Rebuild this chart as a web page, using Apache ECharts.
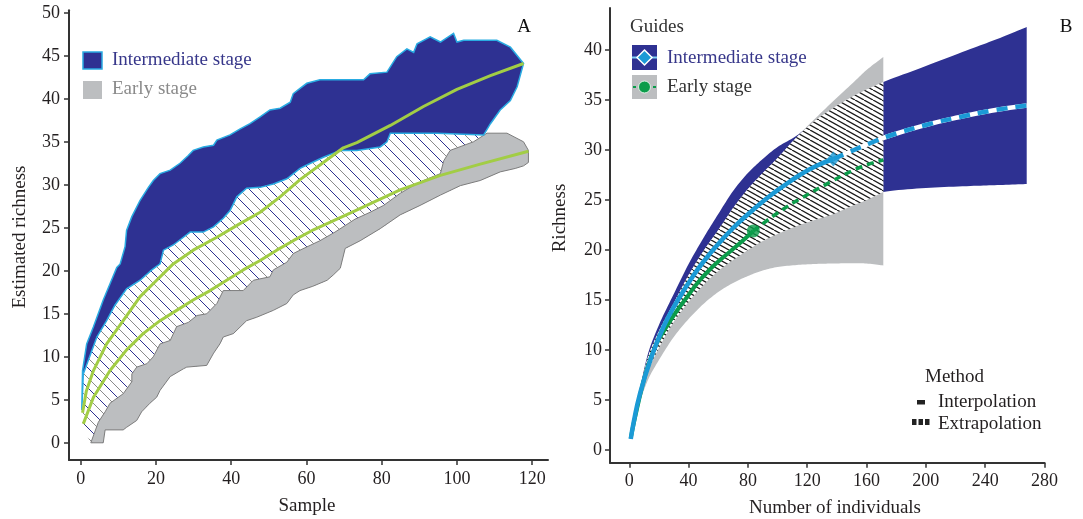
<!DOCTYPE html>
<html><head><meta charset="utf-8">
<script src="https://cdn.jsdelivr.net/npm/echarts@6/dist/echarts.min.js"></script>
<style>html,body{margin:0;padding:0;background:#fff}#c{width:1083px;height:519px}</style>
</head><body><div id="c"></div>
<script>
// ---------- Panel A (estimated richness vs sample) ----------
const xTicksA = [0, 20, 40, 60, 80, 100, 120];
const yTicksA = [0, 5, 10, 15, 20, 25, 30, 35, 40, 45, 50];
const navyUpperA = [[0.3,3.8],[0.5,8.4],[1.6,11.5],[3.4,13.5],[6,16.6],[7.8,18.5],[9.6,20.4],[10.5,20.8],[11.8,22.8],[12.2,24.7],[13.6,26.3],[15.8,28.2],[18,29.7],[19.3,30.5],[21.1,31.3],[23.8,31.7],[26.4,32.5],[28.6,33.4],[29.9,34],[32.6,34.4],[35.3,34.6],[36.2,35.2],[39.7,35.8],[42.4,36.5],[45,37.1],[47.7,37.9],[50.3,38.7],[53,38.9],[55.7,39.6],[56.5,40.6],[58.3,41.2],[60.1,41.8],[63.6,42.2],[75.2,42.2],[76.9,42.9],[81.4,43.1],[84,44.9],[86.7,45.8],[88.5,45.4],[89.4,46.4],[92.9,47.2],[95.6,46.6],[99.1,47.6],[100,46.6],[101.8,46.8],[110.6,46.8],[114.2,46],[117.7,44.1]];
const navyLowerA = [[0.7,8.0],[4.3,12.3],[6.9,14.2],[9.1,16],[12.2,17.9],[15.8,18.9],[18.9,20.1],[21.1,20.8],[22,22.4],[24.6,23],[27.3,23.9],[29.1,24.5],[32.6,24.5],[35.3,25.1],[37.9,26.1],[39.7,27],[41.5,28.6],[44.1,29.6],[47.7,29.7],[51.2,30.1],[54.8,30.7],[58.3,31.9],[60.1,32.3],[64.5,33.2],[69,34],[73.4,34],[79.6,34.4],[81.4,35],[82.3,36],[94.7,36],[107.1,35.8],[108.9,37.1],[111.5,38.7],[114.2,39.8],[116,41.4],[117.7,44.1]];
const grayUpperA = [[2.7,0],[4.7,2.4],[6.5,3.6],[7.8,4.6],[11.3,5.7],[13.6,7.1],[13.6,8],[14.9,8.8],[17.6,9.2],[19.3,10],[21.1,11.5],[23.8,11.9],[25.5,13.5],[28.6,14],[30.9,14.8],[33.5,15],[36.2,16.2],[37.9,17.7],[43.2,17.7],[45.9,18.9],[50.3,19.3],[51.2,20.1],[54.8,21],[56.5,22],[58.3,22.4],[63.6,23.5],[67.6,24.5],[72.9,26],[76.9,26.8],[80.5,27.6],[84.9,29],[88,29.8],[91.1,30.5],[95.6,31.3],[96.5,32.8],[98.2,34],[104.4,35],[108,36],[113.3,36],[117.7,35],[119,34]];
const grayLowerA = [[2.7,0],[6,0],[6.5,1.5],[11.3,1.5],[12.2,1.8],[14.9,2.6],[16.2,3.6],[18.4,4.6],[20.2,5.3],[21.1,6.1],[23.8,7.7],[27.3,8.6],[28.2,8.8],[33.5,9],[35.3,10.4],[37,11.5],[37.9,12.3],[40.6,12.7],[44.1,14.2],[46.8,14.6],[51.2,15.4],[54.8,16.2],[56.5,17.2],[58.3,17.7],[61.7,18.2],[65.5,18.9],[67.1,19.5],[69,20.3],[70.3,22.6],[74.3,23.5],[79.6,24.9],[84.9,26.5],[90.2,27.6],[95.6,28.8],[100.9,29.9],[106.2,30.5],[111.5,31.5],[115.5,31.9],[117.7,32.2],[119,32.6]];
const intMeanA = [[0.5,3.5],[1.5,6],[3.4,8.4],[6.9,11.5],[11.3,14.2],[15.8,17],[20.2,18.9],[24.6,20.8],[29.9,22.4],[36.2,23.9],[42,25.4],[47.7,26.8],[53,28.6],[58.3,30.6],[64.5,32.6],[69.8,34.3],[73.4,34.9],[82.3,36.9],[91.1,39.1],[100,41.1],[108.9,42.7],[117.7,44.1]];
const earlyMeanA = [[0.7,2.2],[3.4,5.3],[7.8,8.4],[12.2,10.8],[16.6,12.7],[21.1,14.2],[25.5,15.4],[29.9,16.6],[34.4,17.7],[38.8,18.9],[43.2,20.1],[47.7,21.2],[52.1,22.4],[56.5,23.5],[62,24.8],[71.6,26.7],[84.9,29.4],[95.6,31.1],[106.2,32.4],[119,33.9]];

// ---------- Panel B (richness vs number of individuals) ----------
const xTicksB = [0, 40, 80, 120, 160, 200, 240, 280];
const yTicksB = [0, 5, 10, 15, 20, 25, 30, 35, 40];
const xB       = [1, 5, 12, 20, 30, 40, 50, 60, 70, 80, 90, 100, 113, 125, 137.6, 150, 160, 171.3, 200, 230, 250, 268];
const intUpB   = [1.2, 4.4, 9.3, 12.5, 15.6, 18.6, 21.2, 23.6, 25.9, 27.7, 29.1, 30.3, 31.45, 32.9, 34.2, 35.3, 36.05, 36.8, 38.4, 40.1, 41.2, 42.3];
const intLowB  = [1.2, 3.9, 7.6, 10.2, 12.8, 14.8, 16.5, 17.9, 19.0, 20.0, 20.9, 21.6, 22.4, 23.0, 23.6, 24.4, 25.0, 25.8, 26.2, 26.4, 26.5, 26.6];
const earlyUpB = [1.2, 4.3, 9.0, 11.9, 14.7, 17.5, 19.9, 22.0, 24.2, 26.1, 27.7, 29.2, 31.3, 33.1, 34.9, 36.6, 38.0, 39.3];
const earlyLowB= [1.2, 3.7, 6.8, 9.0, 11.3, 13.1, 14.6, 15.8, 16.7, 17.4, 17.95, 18.3, 18.5, 18.6, 18.65, 18.68, 18.65, 18.45];
const intMeanB   = [[1,1.1],[3,2.8],[7,5.5],[14,8.9],[23,12.3],[32,14.8],[43,17.4],[52,19.2],[60,20.6],[70,22.2],[81,23.7],[93,25.2],[104,26.4],[115,27.5],[126,28.4],[137.6,29.1]];
const intExtraB  = [[137.6,29.1],[150,29.9],[162,30.65],[176,31.45],[200,32.5],[223,33.3],[245,33.95],[268,34.45]];
const earlyMeanB = [[1,1.2],[5,4.0],[11.7,8.0],[18,10.5],[25,12.3],[32,13.9],[39,15.3],[46,16.7],[54,18.0],[62,19.1],[70,20.1],[77,21.0],[83.6,21.9]];
const earlyExtraB= [[83.6,21.9],[100,23.7],[115,25.1],[137.6,26.95],[150,27.9],[160,28.5],[171.3,29.0]];

// ---------- styling helpers ----------
const NAVY = '#2e3192', GRAY = '#bcbec0', BLUE = '#1b9ad6', GREEN = '#0b9c4a', LIME = '#a2cd45';
const FONT = '"Liberation Serif", "Times New Roman", serif';

function hatch(w, h, d, colors, lw) {
  const c = document.createElement('canvas');
  c.width = w; c.height = h;
  const g = c.getContext('2d');
  g.fillStyle = '#fff'; g.fillRect(0, 0, w, h);
  g.lineWidth = lw;
  const n = Math.round(w / d);
  for (let k = -n; k <= n; k++) {
    g.strokeStyle = colors[((k % colors.length) + colors.length) % colors.length];
    g.beginPath(); g.moveTo(k * d, 0); g.lineTo(k * d + w, h); g.stroke();
  }
  return { image: c, repeat: 'repeat' };
}
const hatchA = hatch(20, 20, 10, ['#2e3192', '#8a8a8a'], 1);
const hatchB = hatch(18, 10, 9, ['#1a1a1a'], 1.3);

function poly(xi, yi, pts, style, z) {
  return {
    type: 'custom', xAxisIndex: xi, yAxisIndex: yi, coordinateSystem: 'cartesian2d',
    data: [pts[0]], silent: true, z: z, clip: false,
    renderItem: (params, api) => ({ type: 'polygon', shape: { points: pts.map(p => api.coord(p)) }, style: style })
  };
}
// smooth drawing of a pixel polyline (visual curve only, like smooth:true)
function smoothPx(px) {
  const out = [], n = px.length, k = 1 / 6, steps = 10;
  for (let i = 0; i < n - 1; i++) {
    const p0 = px[Math.max(i - 1, 0)], p1 = px[i], p2 = px[i + 1], p3 = px[Math.min(i + 2, n - 1)];
    const c1 = [p1[0] + (p2[0] - p0[0]) * k, p1[1] + (p2[1] - p0[1]) * k];
    const c2 = [p2[0] - (p3[0] - p1[0]) * k, p2[1] - (p3[1] - p1[1]) * k];
    for (let s = 0; s < steps; s++) {
      const t = s / steps, u = 1 - t;
      out.push([u*u*u*p1[0] + 3*u*u*t*c1[0] + 3*u*t*t*c2[0] + t*t*t*p2[0],
                u*u*u*p1[1] + 3*u*u*t*c1[1] + 3*u*t*t*c2[1] + t*t*t*p2[1]]);
    }
  }
  out.push(px[n - 1]);
  return out;
}
function bandB(xs, lo, hi, fill, z) {
  return {
    type: 'custom', xAxisIndex: 1, yAxisIndex: 1, coordinateSystem: 'cartesian2d',
    data: [[xs[0], lo[0]]], silent: true, z: z, clip: false,
    renderItem: (params, api) => {
      const up = smoothPx(xs.map((x, i) => api.coord([x, hi[i]])));
      const dn = smoothPx(xs.map((x, i) => api.coord([x, lo[i]]))).reverse();
      return { type: 'polygon', shape: { points: up.concat(dn) }, style: { fill: fill } };
    }
  };
}
function line(xi, yi, data, color, width, type, z, smooth) {
  return { type: 'line', xAxisIndex: xi, yAxisIndex: yi, data: data, symbol: 'none', smooth: smooth, silent: true, z: z,
    lineStyle: { color: color, width: width, type: type, cap: 'butt' } };
}
function axis(gi, min, max, ticks, margin) {
  return {
    type: 'value', gridIndex: gi, min: min, max: max,
    axisLine: { show: true, onZero: false, lineStyle: { color: '#333', width: 2 } },
    axisTick: { show: true, length: 5, customValues: ticks, lineStyle: { color: '#333', width: 1.5 } },
    axisLabel: { customValues: ticks, margin: margin, fontFamily: FONT, fontSize: 18, color: '#231f20' },
    splitLine: { show: false }
  };
}

// derived polygons
const navyPolyA = navyUpperA.concat(navyLowerA.slice().reverse());
const grayPolyA = grayUpperA.concat(grayLowerA.slice().reverse());
const hatchPolyA = navyLowerA.filter(p => p[0] <= 107.1)
  .concat(grayLowerA.filter(p => p[0] <= 107.1).reverse(), [[0.5, 1.8]]);
const nE = earlyUpB.length;
const xE = xB.slice(0, nE);
const ovHi = xE.map((x, i) => Math.min(intUpB[i], earlyUpB[i]));
const ovLo = xE.map((x, i) => Math.max(intLowB[i], earlyLowB[i]));

const series = [
  // Panel A
  poly(0, 0, hatchPolyA, { fill: hatchA }, 2),
  poly(0, 0, grayPolyA, { fill: GRAY, stroke: '#7d7d7d', lineWidth: 1 }, 3),
  poly(0, 0, navyPolyA, { fill: NAVY, stroke: '#29abe2', lineWidth: 1.5 }, 4),
  line(0, 0, earlyMeanA, LIME, 3, 'solid', 6, false),
  line(0, 0, intMeanA, LIME, 3, 'solid', 6, false),
  // Panel B
  bandB(xB, intLowB, intUpB, NAVY, 2),
  bandB(xE, earlyLowB, earlyUpB, GRAY, 3),
  bandB(xE, ovLo, ovHi, hatchB, 4),
  line(1, 1, earlyMeanB, GREEN, 4, 'solid', 8, true),
  line(1, 1, earlyExtraB, GREEN, 3.5, [7, 5], 8, true),
  { type: 'scatter', xAxisIndex: 1, yAxisIndex: 1, data: [earlyMeanB[earlyMeanB.length - 1]], symbol: 'circle', symbolSize: 13,
    itemStyle: { color: GREEN }, silent: true, z: 9 },
  line(1, 1, intExtraB, '#ffffff', 4.5, 'solid', 10, true),
  line(1, 1, intExtraB, BLUE, 4.5, [11, 8], 10, true),
  line(1, 1, intMeanB, BLUE, 4.5, 'solid', 10, true),
  { type: 'scatter', xAxisIndex: 1, yAxisIndex: 1, data: [intMeanB[intMeanB.length - 1]], symbol: 'diamond', symbolSize: [13, 15],
    itemStyle: { color: BLUE }, silent: true, z: 11 }
];

function txt(x, y, s, size, color, align, rot) {
  return { type: 'text', x: x, y: y, rotation: rot || 0, silent: true, z: 100,
    style: { text: s, font: size + 'px ' + FONT, fill: color, textAlign: align || 'left', align: align || 'left',
      textVerticalAlign: 'middle', verticalAlign: 'middle' } };
}
const graphic = [
  // panel A legend
  { type: 'rect', shape: { x: 83, y: 52, width: 19, height: 17 }, style: { fill: NAVY, stroke: '#29abe2', lineWidth: 1.5 }, z: 100 },
  { type: 'rect', shape: { x: 83, y: 81, width: 19, height: 18 }, style: { fill: GRAY }, z: 100 },
  txt(112, 60, 'Intermediate stage', 19, '#37378a'),
  txt(112, 89, 'Early stage', 19, '#8a8a8a'),
  txt(524, 27, 'A', 19, '#111', 'center'),
  // axis titles
  txt(20, 237, 'Estimated richness', 19, '#231f20', 'center', Math.PI / 2),
  txt(307, 506, 'Sample', 19, '#231f20', 'center'),
  txt(560, 218, 'Richness', 19, '#231f20', 'center', Math.PI / 2),
  txt(835, 508, 'Number of individuals', 19, '#231f20', 'center'),
  // panel B legend
  txt(630, 27, 'Guides', 19, '#333'),
  { type: 'rect', shape: { x: 632, y: 45, width: 25, height: 25 }, style: { fill: NAVY }, z: 100 },
  { type: 'line', shape: { x1: 632, y1: 57.5, x2: 657, y2: 57.5 }, style: { stroke: '#7fd0f3', lineWidth: 2 }, z: 101 },
  { type: 'polygon', shape: { points: [[644.5, 50], [652, 57.5], [644.5, 65], [637, 57.5]] }, style: { fill: BLUE, stroke: '#fff', lineWidth: 1.5 }, z: 102 },
  { type: 'rect', shape: { x: 632, y: 75, width: 25, height: 24 }, style: { fill: GRAY }, z: 100 },
  { type: 'line', shape: { x1: 633, y1: 87, x2: 656, y2: 87 }, style: { stroke: GREEN, lineWidth: 2, lineDash: [3, 2] }, z: 101 },
  { type: 'circle', shape: { cx: 644.5, cy: 87, r: 6 }, style: { fill: GREEN, stroke: '#dff3e6', lineWidth: 1 }, z: 102 },
  txt(667, 58, 'Intermediate stage', 19, '#37378a'),
  txt(667, 87, 'Early stage', 19, '#333'),
  txt(1066, 27, 'B', 19, '#111', 'center'),
  // method legend
  txt(925, 377, 'Method', 19, '#231f20'),
  { type: 'rect', shape: { x: 917, y: 400, width: 8, height: 4.5 }, style: { fill: '#222' }, z: 100 },
  txt(938, 402, 'Interpolation', 19, '#231f20'),
  { type: 'rect', shape: { x: 912, y: 419, width: 4.5, height: 6 }, style: { fill: '#222' }, z: 100 },
  { type: 'rect', shape: { x: 918.5, y: 419, width: 4.5, height: 6 }, style: { fill: '#222' }, z: 100 },
  { type: 'rect', shape: { x: 925, y: 419, width: 4.5, height: 6 }, style: { fill: '#222' }, z: 100 },
  txt(938, 424, 'Extrapolation', 19, '#231f20')
];

const chart = echarts.init(document.getElementById('c'), null, { renderer: 'canvas' });
chart.setOption({
  animation: false,
  backgroundColor: '#fff',
  grid: [
    { left: 69, right: 535, top: 10.2, bottom: 59 },
    { left: 610, right: 38.5, top: 8, bottom: 56.3 }
  ],
  xAxis: [axis(0, -3.1, 124.2, xTicksA, 10), axis(1, -13, 280, xTicksB, 10)],
  yAxis: [axis(0, -2, 50.3, yTicksA, 9), axis(1, -1.27, 44.2, yTicksB, 8)],
  series: series,
  graphic: graphic
});
</script>
</body></html>
